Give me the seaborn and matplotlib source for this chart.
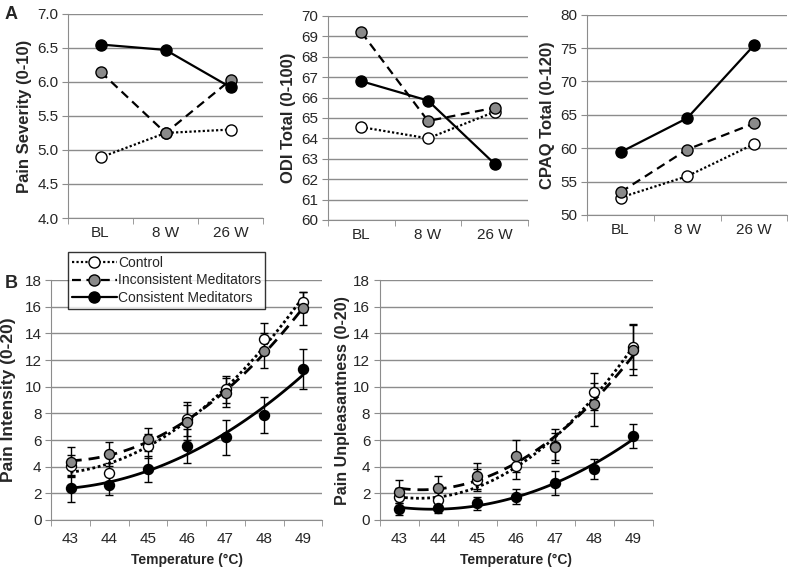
import numpy as np
import matplotlib.pyplot as plt
import seaborn as sns
from matplotlib.lines import Line2D
from matplotlib.legend_handler import HandlerLine2D

sns.set_style("ticks")
plt.rcParams['font.family'] = ['Liberation Sans', 'DejaVu Sans']

# ---- data ----
groups = ['Control', 'Inconsistent Meditators', 'Consistent Meditators']
weeks = ['BL', '8 W', '26 W']

severity_ctrl = [4.89, 5.25, 5.30]
severity_incons = [6.15, 5.25, 6.03]
severity_cons = [6.55, 6.47, 5.92]

odi_ctrl = [64.55, 64.0, 65.3]
odi_incons = [69.2, 64.85, 65.5]
odi_cons = [66.8, 65.85, 62.75]

cpaq_ctrl = [52.6, 55.8, 60.6]
cpaq_incons = [53.4, 59.8, 63.7]
cpaq_cons = [59.4, 64.5, 75.4]

temps = [43, 44, 45, 46, 47, 48, 49]

intensity_ctrl = [4.05, 3.5, 5.55, 7.58, 9.8, 13.6, 16.35]
intensity_incons = [4.38, 4.93, 6.05, 7.33, 9.55, 12.7, 15.88]
intensity_cons = [2.38, 2.63, 3.83, 5.55, 6.2, 7.88, 11.3]
intensity_ctrl_se = [0.85, 0.8, 0.9, 1.25, 1.0, 1.15, 0.75]
intensity_incons_se = [1.1, 0.9, 0.85, 1.3, 1.1, 1.3, 1.25]
intensity_cons_se = [1.0, 0.75, 1.0, 1.25, 1.3, 1.35, 1.5]

unpleas_ctrl = [1.7, 1.5, 3.0, 4.05, 5.55, 9.63, 13.0]
unpleas_incons = [2.13, 2.43, 3.3, 4.83, 5.5, 8.68, 12.75]
unpleas_cons = [0.8, 0.93, 1.25, 1.75, 2.75, 3.83, 6.33]
unpleas_ctrl_se = [0.7, 0.6, 0.8, 1.0, 1.3, 1.4, 1.7]
unpleas_incons_se = [0.85, 0.9, 0.95, 1.2, 1.0, 1.6, 1.9]
unpleas_cons_se = [0.45, 0.4, 0.5, 0.55, 0.9, 0.73, 0.9]

# ---- styles ----
ls = {'Control': (0, (1, 1)), 'Inconsistent Meditators': (0, (4, 2.5)),
      'Consistent Meditators': '-'}
fc = {'Control': 'white', 'Inconsistent Meditators': '#8a8a8a',
      'Consistent Meditators': 'black'}
grid_c = '#8c8c8c'


def style_axes(ax, yticks, ylabel, fmt, tsize, lsize):
    ax.set_yticks(yticks)
    ax.set_ylim(yticks[0], yticks[-1])
    ax.set_yticklabels([fmt % t for t in yticks], fontsize=tsize)
    ax.yaxis.grid(True, color=grid_c, lw=1)
    ax.set_axisbelow(True)
    ax.set_ylabel(ylabel, fontsize=lsize, fontweight='bold', labelpad=4)
    sns.despine(ax=ax)
    for s in ['left', 'bottom']:
        ax.spines[s].set_color(grid_c)
    ax.tick_params(axis='y', length=4, color=grid_c, pad=3)
    ax.tick_params(axis='x', which='major', length=0, pad=6)
    ax.tick_params(axis='x', which='minor', length=4, color=grid_c)


fig = plt.figure(figsize=(8, 5.67), dpi=100)

# ---- A: three line panels ----
top = [
    ([0.085, 0.6155, 0.244, 0.36], severity_ctrl, severity_incons, severity_cons,
     np.arange(4, 7.01, 0.5), 'Pain Severity (0-10)', '%.1f'),
    ([0.41, 0.612, 0.25, 0.36], odi_ctrl, odi_incons, odi_cons,
     np.arange(60, 71, 1), 'ODI Total (0-100)', '%d'),
    ([0.734, 0.621, 0.25, 0.353], cpaq_ctrl, cpaq_incons, cpaq_cons,
     np.arange(50, 81, 5), 'CPAQ Total (0-120)', '%d'),
]
xs = np.arange(len(weeks))
for rect, c, i, k, yt, lab, fmt in top:
    ax = fig.add_axes(rect)
    for g, vals in zip(groups, [c, i, k]):
        sns.lineplot(x=xs, y=vals, ax=ax, color='black', lw=1.6,
                     linestyle=ls[g], marker='o', markersize=8,
                     markerfacecolor=fc[g], markeredgecolor='black',
                     markeredgewidth=1, zorder=3)
    ax.set_xlim(-0.5, 2.5)
    ax.set_xticks(xs)
    ax.set_xticklabels(weeks, fontsize=11)
    ax.set_xticks(np.arange(-0.5, 2.6, 1), minor=True)
    style_axes(ax, yt, lab, fmt, 11, 12)

# ---- B: two temperature panels ----
bottom = [
    ([0.064, 0.0829, 0.339, 0.423], 'Pain Intensity (0-20)', 12.5, -0.13,
     [intensity_ctrl, intensity_incons, intensity_cons],
     [intensity_ctrl_se, intensity_incons_se, intensity_cons_se]),
    ([0.475, 0.0829, 0.341, 0.423], 'Pain Unpleasantness (0-20)', 11.5, -0.11,
     [unpleas_ctrl, unpleas_incons, unpleas_cons],
     [unpleas_ctrl_se, unpleas_incons_se, unpleas_cons_se]),
]
for rect, lab, lab_size, lab_x, series, ses in bottom:
    ax = fig.add_axes(rect)
    for g, vals, se in zip(groups, series, ses):
        ax.errorbar(temps, vals, yerr=se, fmt='none', ecolor='black',
                    elinewidth=1, capsize=3, capthick=1, zorder=2)
        sns.regplot(x=temps, y=vals, order=2, ci=None, scatter=False, ax=ax,
                    line_kws=dict(color='black', lw=2, linestyle=ls[g], zorder=3))
        sns.scatterplot(x=temps, y=vals, ax=ax, color=fc[g], edgecolor='black',
                        linewidth=1, s=52, zorder=4)
    ax.set_xlim(42.5, 49.5)
    ax.set_xticks(temps)
    ax.set_xticklabels([str(t) for t in temps], fontsize=11)
    ax.set_xticks(np.arange(42.5, 49.6, 1), minor=True)
    style_axes(ax, np.arange(0, 19, 2), lab, '%d', 11, lab_size)
    ax.tick_params(axis='x', which='major', pad=9)
    ax.set_xlabel('Temperature (\u00b0C)', fontsize=10, fontweight='bold', labelpad=5)
    ax.yaxis.set_label_coords(lab_x, 0.5)


# legend: marker sits at the right end of the line sample
class EndMarker(HandlerLine2D):
    def get_xdata(self, legend, xdescent, ydescent, width, height, fontsize):
        xd, _ = super().get_xdata(legend, xdescent, ydescent, width, height, fontsize)
        return xd, [xd[-1]]


handles = [Line2D([], [], color='black', lw=1.6, linestyle=ls[g], marker='o',
                  markersize=8, markerfacecolor=fc[g], markeredgecolor='black')
           for g in groups]
leg = fig.legend(handles, groups, loc='upper left', bbox_to_anchor=(0.085, 0.556),
                 frameon=True, fancybox=False, edgecolor='black', fontsize=10,
                 handlelength=3.2, handletextpad=0.1, borderpad=0.3,
                 labelspacing=0.25, borderaxespad=0,
                 handler_map={Line2D: EndMarker()})
leg.get_frame().set_linewidth(1)
leg.set_zorder(10)

fig.text(0.006, 0.975, 'A', fontsize=13, fontweight='bold', va='center')
fig.text(0.006, 0.5, 'B', fontsize=13, fontweight='bold', va='center')

fig.savefig('out.png', dpi=100)
